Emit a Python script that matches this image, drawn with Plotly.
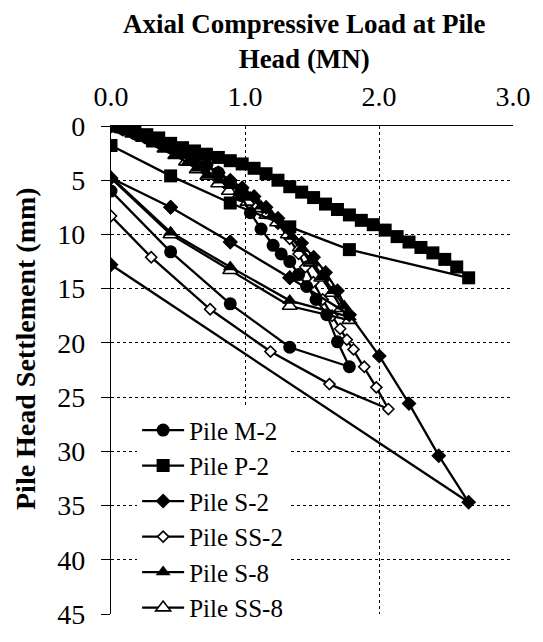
import plotly.graph_objects as go

# ---------------- data (load in MN, settlement in mm) ----------------
m2_load = [0, 0.089, 0.178, 0.267, 0.356, 0.445, 0.534, 0.623, 0.712, 0.801, 0.890, 0.970, 1.040, 1.120,
           1.210, 1.270, 1.334, 1.400, 1.460, 1.530, 1.610, 1.690, 1.779, 1.334, 0.890, 0.445, 0.0]
m2_settle = [0, 0.3, 0.7, 1.1, 1.5, 2.0, 2.5, 3.0, 3.6, 4.3, 5.2, 6.4, 8.0, 9.5,
             11.0, 11.8, 12.5, 13.7, 14.8, 16.0, 17.4, 19.9, 22.2, 20.4, 16.4, 11.6, 6.0]

p2_load = [0, 0.089, 0.178, 0.267, 0.356, 0.445, 0.534, 0.623, 0.712, 0.801, 0.890, 0.979, 1.068, 1.157,
           1.246, 1.334, 1.423, 1.512, 1.601, 1.690, 1.779, 1.868, 1.957, 2.046, 2.135, 2.224, 2.313,
           2.402, 2.491, 2.580, 2.669, 1.779, 1.334, 0.890, 0.445, 0.0]
p2_settle = [0, 0.1, 0.4, 0.8, 1.1, 1.6, 2.0, 2.3, 2.6, 2.9, 3.2, 3.5, 3.9, 4.4,
             5.0, 5.6, 6.1, 6.6, 7.2, 7.7, 8.2, 8.7, 9.1, 9.6, 10.2, 10.7, 11.2,
             11.7, 12.3, 13.0, 14.0, 11.4, 9.3, 7.1, 4.6, 1.8]

s2_load = [0, 0.089, 0.178, 0.267, 0.356, 0.445, 0.534, 0.623, 0.712, 0.801, 0.890, 0.979, 1.068, 1.157,
           1.246, 1.334, 1.423, 1.512, 1.601, 1.690, 1.779, 1.334, 0.890, 0.445, 0.0, 0.445, 0.890,
           1.334, 1.779, 2.002, 2.224, 2.446, 2.669, 0.0]
s2_settle = [0, 0.3, 0.7, 1.1, 1.5, 2.0, 2.5, 3.0, 3.6, 4.3, 5.0, 5.7, 6.5, 7.5,
             8.5, 9.6, 10.8, 12.1, 13.5, 15.2, 17.4, 14.0, 10.7, 7.5, 4.8, 7.5, 10.7,
             14.0, 17.4, 21.2, 25.6, 30.4, 34.7, 12.8]

ss2_load = [0, 0.089, 0.178, 0.267, 0.356, 0.445, 0.534, 0.623, 0.712, 0.801, 0.890, 0.979, 1.068, 1.157,
            1.246, 1.334, 1.400, 1.450, 1.510, 1.580, 1.650, 1.710, 1.760, 1.810, 1.890, 1.980, 2.070,
            1.630, 1.190, 0.740, 0.300, 0.0]
ss2_settle = [0, 0.3, 0.7, 1.1, 1.5, 2.0, 2.5, 3.1, 3.7, 4.4, 5.1, 5.9, 6.8, 7.8,
              9.0, 10.4, 11.8, 13.0, 14.4, 16.0, 17.5, 18.7, 19.7, 20.6, 22.2, 24.1, 26.1,
              23.8, 20.8, 16.9, 12.1, 8.3]

s8_load = [0, 0.080, 0.160, 0.240, 0.320, 0.400, 0.480, 0.570, 0.650, 0.720, 0.810, 0.890, 0.960, 1.040,
           1.120, 1.200, 1.280, 1.350, 1.420, 1.500, 1.580, 1.660, 1.740, 1.779, 1.334, 0.890, 0.445, 0.0]
s8_settle = [0, 0.3, 0.7, 1.1, 1.6, 2.1, 2.7, 3.4, 3.9, 4.5, 5.0, 5.5, 6.0, 6.6,
             7.4, 8.3, 9.1, 10.2, 11.3, 12.5, 13.9, 15.2, 16.6, 17.6, 16.1, 13.0, 9.8, 4.7]

ss8_load = [0, 0.080, 0.160, 0.240, 0.320, 0.400, 0.480, 0.560, 0.640, 0.720, 0.800, 0.880, 0.950, 1.020,
            1.080, 1.160, 1.240, 1.320, 1.410, 1.490, 1.570, 1.650, 1.720, 1.779, 1.334, 0.890, 0.445, 0.0]
ss8_settle = [0, 0.3, 0.7, 1.1, 1.6, 2.1, 2.7, 3.3, 4.0, 4.6, 5.3, 6.0, 6.5, 7.0,
              7.6, 8.2, 8.9, 10.0, 11.2, 12.6, 14.0, 15.4, 16.8, 17.9, 16.6, 13.3, 10.0, 4.8]

x_ticks = [0, 1, 2, 3]
x_tick_labels = ["0.0", "1.0", "2.0", "3.0"]
y_ticks = [0, 5, 10, 15, 20, 25, 30, 35, 40, 45]

FONT = "'Liberation Serif', 'Times New Roman', serif"

# draw order (bottom -> top) with legend rank for legend order
series = [
    # name, x, y, symbol, size, fill, legendrank
    ("Pile SS-2", ss2_load, ss2_settle, "diamond", 8.5, "white", 4),
    ("Pile SS-8", ss8_load, ss8_settle, "triangle-up", 13, "white", 6),
    ("Pile P-2", p2_load, p2_settle, "square", 13, "black", 2),
    ("Pile M-2", m2_load, m2_settle, "circle", 13, "black", 1),
    ("Pile S-2", s2_load, s2_settle, "diamond", 11.5, "black", 3),
    ("Pile S-8", s8_load, s8_settle, "triangle-up", 13, "black", 5),
]

fig = go.Figure()
for name, xs, ys, sym, size, fill, rank in series:
    fig.add_trace(go.Scatter(
        x=xs, y=ys, name=name, mode="lines+markers",
        line=dict(color="black", width=2.3),
        marker=dict(symbol=sym, size=size, color=fill,
                    line=dict(color="black", width=1.6 if fill == "white" else 0)),
        legendrank=rank,
    ))

fig.update_layout(
    width=543, height=642,
    margin=dict(l=111, r=20, t=126, b=16),
    paper_bgcolor="white", plot_bgcolor="white",
    font=dict(family=FONT, color="black", size=26),
    showlegend=True,
    legend=dict(
        x=0.065, xanchor="left", y=0.195, yanchor="middle",
        bgcolor="white", borderwidth=0, itemwidth=42,
        font=dict(family=FONT, size=25, color="black"),
        tracegroupgap=0,
    ),
    xaxis=dict(
        side="top", range=[0, 3], tickvals=x_ticks, ticktext=x_tick_labels,
        showline=True, linecolor="black", linewidth=1.2,
        showgrid=True, gridcolor="black", griddash="dot", gridwidth=1,
        zeroline=False, ticks="", ticklabelstandoff=8,
        tickfont=dict(family=FONT, size=28, color="black"),
    ),
    yaxis=dict(
        range=[45, 0], tickvals=y_ticks,
        showline=True, linecolor="black", linewidth=1.2,
        showgrid=True, gridcolor="black", griddash="dot", gridwidth=1,
        zeroline=False, ticks="outside", ticklen=9, tickcolor="black",
        ticklabelstandoff=10,
        tickfont=dict(family=FONT, size=28, color="black"),
    ),
    annotations=[
        dict(text="<b>Axial Compressive Load at Pile<br>Head (MN)</b>", xref="paper", yref="paper",
             x=0.48, y=1.0, yshift=85, showarrow=False, xanchor="center", yanchor="middle",
             align="center", font=dict(family=FONT, size=27, color="black")),
        dict(text="<b>Pile Head Settlement (mm)</b>", xref="paper", yref="paper",
             x=0.0, xshift=-86, y=0.5, yshift=21, textangle=-90, showarrow=False,
             xanchor="center", yanchor="middle",
             font=dict(family=FONT, size=28, color="black")),
    ],
)

fig.write_html("out.html")
